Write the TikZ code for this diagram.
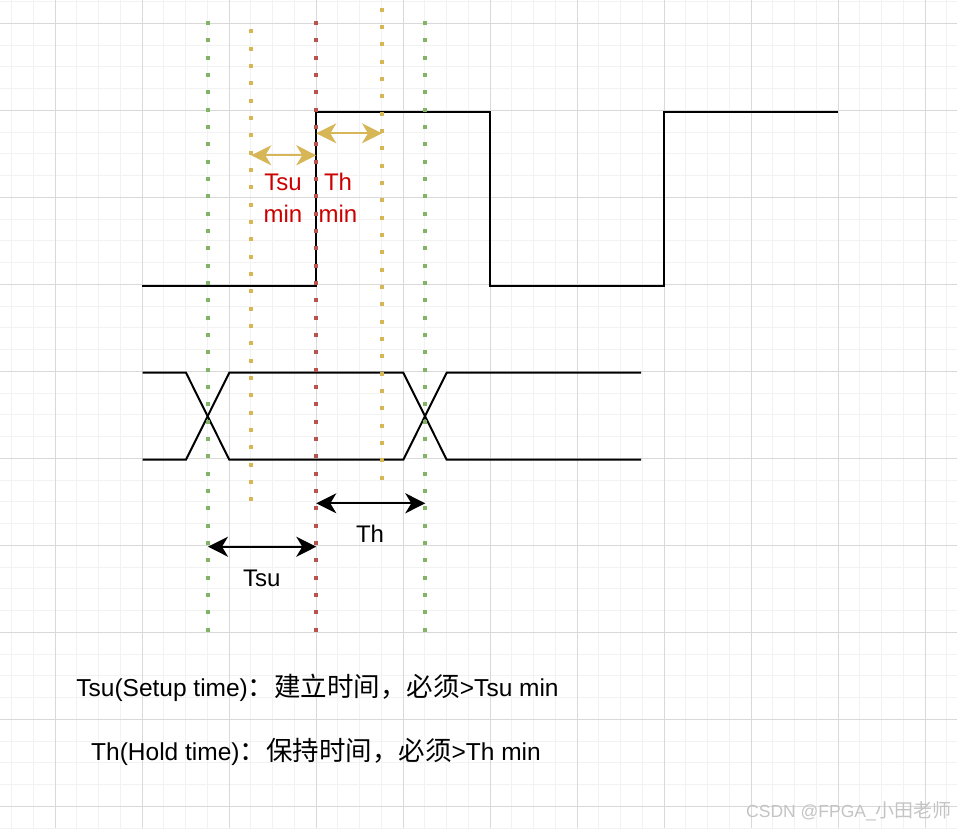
\documentclass[tikz,border=0pt]{standalone}
\usepackage{fontspec}
\setmainfont{Liberation Sans}
\newfontfamily\cjk{Noto Sans CJK SC}
\usetikzlibrary{arrows.meta}
\definecolor{gmaj}{HTML}{D9D9D9}
\definecolor{gmin}{HTML}{F2F2F2}
\definecolor{dgreen}{HTML}{82B366}
\definecolor{dyellow}{HTML}{D6B656}
\definecolor{dred}{HTML}{B85450}
\definecolor{tred}{HTML}{CC0000}
\definecolor{wmgray}{HTML}{C4C4C4}
\newcommand{\cjkbig}[1]{{\cjk\fontsize{26.5}{30}\selectfont #1}}
\newcommand{\cjkwm}[1]{{\cjk\fontsize{19}{22}\selectfont #1}}
\begin{document}
\begin{tikzpicture}[x=1pt,y=-1pt,
  wave/.style={line width=2pt,black,line join=miter},
  dotline/.style={line width=4pt,dash pattern=on 4pt off 13.33pt,line cap=butt},
  yarrow/.style={draw=dyellow,fill=dyellow,line width=2pt,{Stealth[length=20pt,width=20pt,inset=6pt]}-{Stealth[length=20pt,width=20pt,inset=6pt]}},
  barrow/.style={draw=black,fill=black,line width=2pt,{Stealth[length=20pt,width=20pt,inset=6pt]}-{Stealth[length=20pt,width=20pt,inset=6pt]}},
  lbl/.style={inner sep=0pt,font=\fontsize{24}{32}\selectfont},
  rlbl/.style={inner sep=0pt,text=tred,align=center,font=\fontsize{24}{32}\selectfont},
  txt/.style={inner sep=0pt,font=\fontsize{24.5}{30}\selectfont}]
\useasboundingbox (0,0) rectangle (957,828);
\fill[white] (0,0) rectangle (957,828);
% grid
\foreach \k in {-2,...,41} \draw[gmin,line width=1pt] ({55+21.75*\k},0) -- ++(0,828);
\foreach \k in {-1,...,37} \draw[gmin,line width=1pt] (0,{23.3+21.75*\k}) -- ++(957,0);
\foreach \k in {0,...,10} \draw[gmaj,line width=1pt] ({55+87*\k},0) -- ++(0,828);
\foreach \k in {0,...,9} \draw[gmaj,line width=1pt] (0,{23.3+87*\k}) -- ++(957,0);
% clock waveform
\draw[wave] (142,285.5) -- (316.3,285.5) -- (316.3,112) -- (490,112) -- (490,285.5)
  -- (664.3,285.5) -- (664.3,112) -- (838.3,112);
% data waveform
\draw[wave] (142.7,372.7) -- (186,372.7) -- (229.3,459.7) -- (403.3,459.7) -- (446.7,372.7) -- (641,372.7);
\draw[wave] (142.7,459.7) -- (186,459.7) -- (229.3,372.7) -- (403.3,372.7) -- (446.7,459.7) -- (641,459.7);
% dotted reference lines
\coordinate (g1t) at (208,21);   \coordinate (g1b) at (208,634);
\coordinate (y1t) at (251.3,29.3); \coordinate (y1b) at (251.3,502);
\coordinate (r1t) at (316.3,21); \coordinate (r1b) at (316.3,634);
\coordinate (y2t) at (382,7.7);  \coordinate (y2b) at (382,482);
\coordinate (g2t) at (425.3,21); \coordinate (g2b) at (425.3,634);
\draw[dotline,dgreen] (g1t) -- (g1b);
\draw[dotline,dyellow] (y1t) -- (y1b);
\draw[dotline,dred] (r1t) -- (r1b);
\draw[dotline,dyellow] (y2t) -- (y2b);
\draw[dotline,dgreen] (g2t) -- (g2b);
% arrows
\coordinate (tsuminL) at (251.3,155.3); \coordinate (tsuminR) at (316.3,155.3);
\coordinate (thminL) at (316.3,133.3);  \coordinate (thminR) at (382,133.3);
\coordinate (tsuL) at (208,546.7);      \coordinate (tsuR) at (316.3,546.7);
\coordinate (thL) at (316.3,503.3);     \coordinate (thR) at (425.3,503.3);
\draw[yarrow] (tsuminL) -- (tsuminR);
\draw[yarrow] (thminL) -- (thminR);
\draw[barrow] (tsuL) -- (tsuR);
\draw[barrow] (thL) -- (thR);
% labels
\node[lbl,anchor=base] (tsulbl) at (261.8,586.7) {Tsu};
\node[lbl,anchor=base] (thlbl) at (370,542) {Th};
\node[rlbl] (tsuminlbl) at (283,198) {Tsu\\min};
\node[rlbl] (thminlbl) at (338,198) {Th\\min};
\node[txt,anchor=base] (def1) at (317.5,696) {Tsu(Setup time)\cjkbig{：建立时间，必须}>Tsu min};
\node[txt,anchor=base] (def2) at (316,760) {Th(Hold time)\cjkbig{：保持时间，必须}>Th min};
\node[inner sep=0pt,anchor=base east,text=wmgray,font=\fontsize{17.5}{21}\selectfont] (wm) at (952,817) {CSDN @FPGA\_\cjkwm{小田老师}};
\end{tikzpicture}
\end{document}
